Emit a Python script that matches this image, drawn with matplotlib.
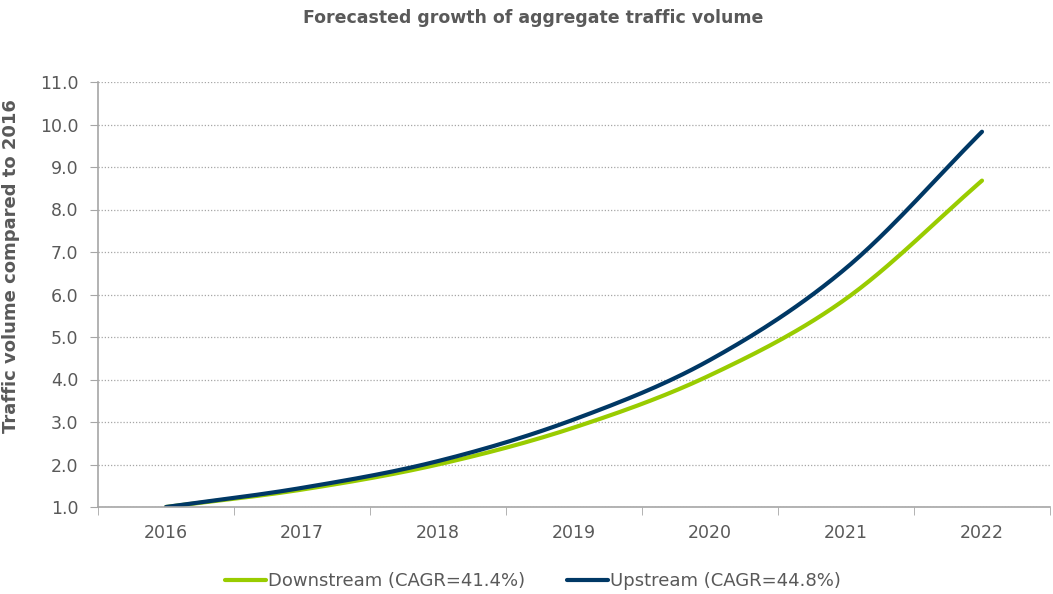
import matplotlib.pyplot as plt
import numpy as np

plt.rcParams["font.family"] = ["DejaVu Sans"]

years = ["2016", "2017", "2018", "2019", "2020", "2021", "2022"]
downstream = [1.0, 1.41, 2.0, 2.87, 4.1, 5.9, 8.68]
upstream = [1.0, 1.45, 2.08, 3.06, 4.46, 6.62, 9.83]
labels = ["Downstream (CAGR=41.4%)", "Upstream (CAGR=44.8%)"]
colors = ["#99CC00", "#003865"]

TEXT = "#595959"


def smooth(xs, ys, n=30):
    # Catmull-Rom style smoothing, like Excel's "smoothed line"
    xs = np.asarray(xs, float)
    ys = np.asarray(ys, float)
    px = np.concatenate([[2 * xs[0] - xs[1]], xs, [2 * xs[-1] - xs[-2]]])
    py = np.concatenate([[2 * ys[0] - ys[1]], ys, [2 * ys[-1] - ys[-2]]])
    out_x, out_y = [], []
    for i in range(1, len(px) - 2):
        t = np.linspace(0, 1, n, endpoint=(i == len(px) - 3))
        for p, out in ((px, out_x), (py, out_y)):
            p0, p1, p2, p3 = p[i - 1], p[i], p[i + 1], p[i + 2]
            c1 = p1 + (p2 - p0) / 6
            c2 = p2 - (p3 - p1) / 6
            out.extend((1 - t) ** 3 * p1 + 3 * (1 - t) ** 2 * t * c1
                       + 3 * (1 - t) * t ** 2 * c2 + t ** 3 * p2)
    return out_x, out_y


fig = plt.figure(figsize=(10.53, 5.94), dpi=100)
ax = fig.add_axes([98 / 1053, 1 - 507 / 594, 952 / 1053, 425 / 594])

x = np.arange(len(years))
for vals, lab, col in zip([downstream, upstream], labels, colors):
    sx, sy = smooth(x, vals)
    ax.plot(sx, sy, color=col, lw=3, label=lab, solid_capstyle="round")

ax.set_xlim(-0.5, len(years) - 0.5)
ax.set_ylim(1, 11)
ax.set_yticks(np.arange(1, 11.5, 1))
ax.set_yticklabels([f"{v:.1f}" for v in np.arange(1, 11.5, 1)])
ax.set_xticks(x)
ax.set_xticklabels(years)
ax.set_xticks(np.arange(-0.5, len(years), 1), minor=True)
ax.tick_params(axis="x", which="major", length=0, pad=12, labelsize=12.5, labelcolor=TEXT)
ax.tick_params(axis="x", which="minor", length=6, color="#A6A6A6", direction="out")
ax.tick_params(axis="y", length=6, color="#A6A6A6", labelsize=12.5, labelcolor=TEXT, pad=8)

ax.grid(axis="y", color="#A6A6A6", linestyle=(0, (1, 1.5)), linewidth=0.9)
ax.set_axisbelow(True)
for s in ["top", "right"]:
    ax.spines[s].set_visible(False)
for s in ["left", "bottom"]:
    ax.spines[s].set_color("#A6A6A6")
    ax.spines[s].set_linewidth(1.2)

ax.set_ylabel("Traffic volume compared to 2016", fontsize=13, fontweight="bold",
              color=TEXT)
ax.yaxis.set_label_coords(-0.082, 0.567)
fig.suptitle("Forecasted growth of aggregate traffic volume", fontsize=12.5,
             fontweight="bold", color=TEXT, x=533.5 / 1053, y=0.985)

ax.legend(loc="center", bbox_to_anchor=(0.457, -0.175), ncol=2, frameon=False,
          fontsize=13, labelcolor=TEXT, handlelength=2.3, handletextpad=0.1,
          columnspacing=2.3)

fig.savefig("out.png", dpi=100)
